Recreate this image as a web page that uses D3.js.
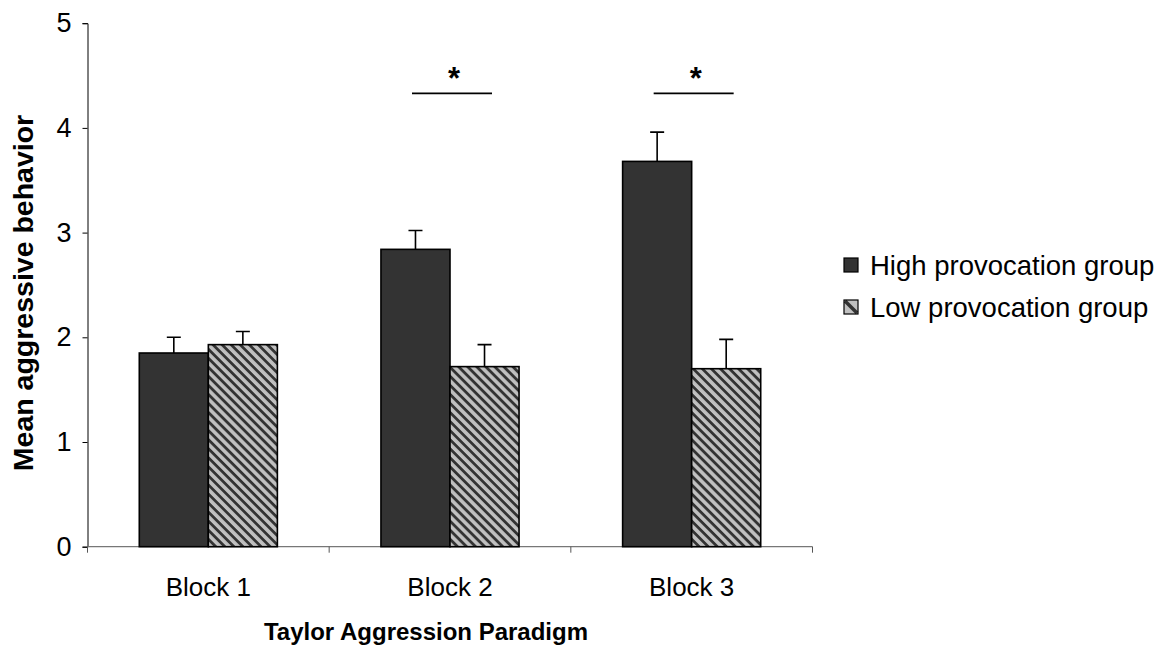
<!DOCTYPE html>
<html>
<head>
<meta charset="utf-8">
<script src="https://cdn.jsdelivr.net/npm/d3@7"></script>
<style>
  html, body { margin: 0; padding: 0; background: #fff; }
  svg { display: block; font-family: Arial, "Liberation Sans", sans-serif; }
</style>
</head>
<body>
<svg id="chart" width="1162" height="648"></svg>
<script>
// Mean aggressive behaviour per block of the Taylor Aggression Paradigm
const blocks = ["Block 1", "Block 2", "Block 3"];
const seriesNames = ["High provocation group", "Low provocation group"];
const highMeans = [1.85, 2.84, 3.68];
const lowMeans = [1.93, 1.72, 1.70];
const highErrors = [0.15, 0.18, 0.28];
const lowErrors = [0.125, 0.21, 0.28];
const yTicks = [0, 1, 2, 3, 4, 5];
// Blocks with a significant group difference, and the height of the bracket
const significantBlocks = ["Block 2", "Block 3"];
const bracketLevel = 4.33;

const svg = d3.select("#chart");

const plot = { left: 87.5, right: 812.5, top: 23.2, bottom: 546.7 };

const x = d3.scaleBand().domain(blocks).range([plot.left, plot.right]).paddingInner(0).paddingOuter(0);
const barW = x.bandwidth() * 0.2857; // Excel-like 150% gap width
const xSeries = d3.scaleBand().domain(seriesNames)
  .range([x.bandwidth() / 2 - barW, x.bandwidth() / 2 + barW]);
const y = d3.scaleLinear().domain([0, 5]).range([plot.bottom, plot.top]);

// Diagonal stripe fill for the low provocation group
const defs = svg.append("defs");
const pat = defs.append("pattern")
  .attr("id", "stripes")
  .attr("patternUnits", "userSpaceOnUse")
  .attr("width", 6.4).attr("height", 6.4)
  .attr("patternTransform", "rotate(45)");
pat.append("rect").attr("width", 6.4).attr("height", 6.4).attr("fill", "#c0c0c0");
pat.append("rect").attr("width", 6.4).attr("height", 2.8).attr("fill", "#333333");

const fills = { "High provocation group": "#333333", "Low provocation group": "url(#stripes)" };

const rows = blocks.map((b, i) => ({
  block: b,
  values: [
    { series: seriesNames[0], mean: highMeans[i], err: highErrors[i] },
    { series: seriesNames[1], mean: lowMeans[i], err: lowErrors[i] }
  ]
}));

// Axes
const yAxis = d3.axisLeft(y).tickValues(yTicks).tickSize(5).tickPadding(11).tickFormat(d3.format("d"));
const gy = svg.append("g").attr("transform", `translate(${plot.left},0)`).call(yAxis);
gy.select(".domain").attr("stroke", "#000").attr("stroke-width", 1);
gy.selectAll(".tick line").attr("stroke", "#000");
gy.selectAll(".tick text").attr("font-size", 27).attr("fill", "#000")
  .attr("font-family", "Arial, 'Liberation Sans', sans-serif");

const xAxisG = svg.append("g").attr("transform", `translate(0,${plot.bottom})`);
xAxisG.append("line")
  .attr("x1", plot.left).attr("x2", plot.right)
  .attr("stroke", "#777").attr("stroke-width", 1.2);
// tick marks between categories
const boundaries = blocks.map(b => x(b)).concat([x(blocks[blocks.length - 1]) + x.bandwidth()]);
xAxisG.selectAll("line.tick").data(boundaries).join("line")
  .attr("class", "tick")
  .attr("x1", d => d).attr("x2", d => d)
  .attr("y1", 0).attr("y2", 6)
  .attr("stroke", "#555").attr("stroke-width", 1);
xAxisG.selectAll("text.cat").data(blocks).join("text")
  .attr("class", "cat")
  .attr("x", d => x(d) + x.bandwidth() / 2)
  .attr("y", 49)
  .attr("text-anchor", "middle")
  .attr("font-size", 26)
  .attr("fill", "#000")
  .text(d => d);

// Bars
const groups = svg.append("g").selectAll("g").data(rows).join("g")
  .attr("transform", d => `translate(${x(d.block)},0)`);

groups.selectAll("rect").data(d => d.values).join("rect")
  .attr("x", d => xSeries(d.series))
  .attr("y", d => y(d.mean))
  .attr("width", xSeries.bandwidth())
  .attr("height", d => y(0) - y(d.mean))
  .attr("fill", d => fills[d.series])
  .attr("stroke", "#000")
  .attr("stroke-width", 1.6);

// Upper error bars
const capHalf = 7;
groups.selectAll("path.err").data(d => d.values).join("path")
  .attr("class", "err")
  .attr("d", d => {
    const cx = xSeries(d.series) + xSeries.bandwidth() / 2;
    const top = y(d.mean + d.err);
    return `M${cx},${y(d.mean)}V${top}M${cx - capHalf},${top}H${cx + capHalf}`;
  })
  .attr("fill", "none")
  .attr("stroke", "#000")
  .attr("stroke-width", 1.6);

// Significance brackets
const sig = svg.append("g").selectAll("g").data(significantBlocks).join("g")
  .attr("transform", d => `translate(${x(d) + x.bandwidth() / 2},0)`);
sig.append("line")
  .attr("x1", -38).attr("x2", 42)
  .attr("y1", y(bracketLevel)).attr("y2", y(bracketLevel))
  .attr("stroke", "#000").attr("stroke-width", 1.6);
sig.append("text")
  .attr("x", 4)
  .attr("y", y(bracketLevel) - 4)
  .attr("text-anchor", "middle")
  .attr("font-size", 31)
  .attr("font-weight", "bold")
  .attr("fill", "#000")
  .text("*");

// Axis titles
svg.append("text")
  .attr("x", 426).attr("y", 640)
  .attr("text-anchor", "middle")
  .attr("font-size", 24)
  .attr("font-weight", "bold")
  .attr("fill", "#000")
  .text("Taylor Aggression Paradigm");

svg.append("text")
  .attr("transform", "translate(33,293) rotate(-90)")
  .attr("text-anchor", "middle")
  .attr("font-size", 28.5)
  .attr("font-weight", "bold")
  .attr("fill", "#000")
  .text("Mean aggressive behavior");

// Legend
const legend = svg.append("g").attr("transform", "translate(844,258)");
const li = legend.selectAll("g").data(seriesNames).join("g")
  .attr("transform", (d, i) => `translate(0,${i * 42})`);
li.append("rect")
  .attr("width", 14).attr("height", 14)
  .attr("fill", (d, i) => i === 0 ? fills[d] : "#c0c0c0");
// the striped swatch shows a single diagonal stripe
li.filter((d, i) => i === 1).append("line")
  .attr("x1", 1).attr("y1", 1).attr("x2", 13).attr("y2", 13)
  .attr("stroke", "#333").attr("stroke-width", 3.5);
li.append("rect")
  .attr("width", 14).attr("height", 14)
  .attr("fill", "none")
  .attr("stroke", "#000").attr("stroke-width", 1.2);
li.append("text")
  .attr("x", 26).attr("y", 17)
  .attr("font-size", 27.5)
  .attr("fill", "#000")
  .text(d => d);
</script>
</body>
</html>
